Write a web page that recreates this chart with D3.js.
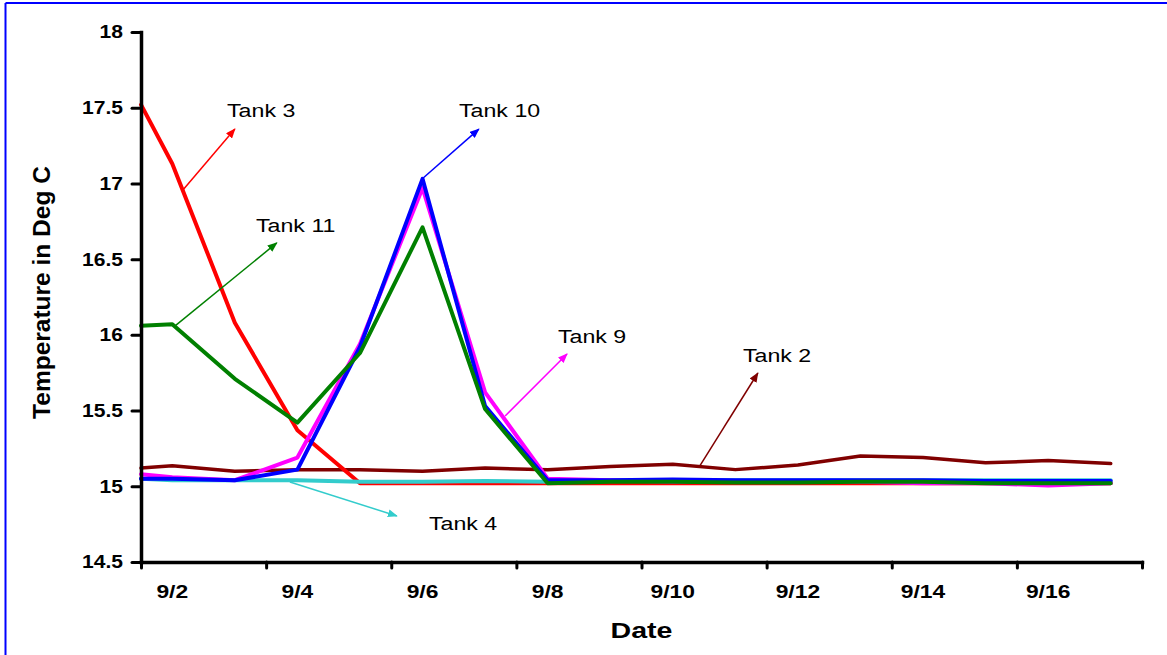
<!DOCTYPE html>
<html>
<head>
<meta charset="utf-8">
<script src="https://cdn.jsdelivr.net/npm/d3@7/dist/d3.min.js"></script>
<style>
  html, body { margin: 0; padding: 0; background: #ffffff; }
  svg { display: block; }
  text { font-family: Arial, "Liberation Sans", Helvetica, sans-serif; fill: #000; }
</style>
</head>
<body>
<svg id="chart" width="1167" height="655"></svg>
<script>
// ---------------- data ----------------
const days = [1.5, 2, 3, 4, 5, 6, 7, 8, 9, 10, 11, 12, 13, 14, 15, 16, 17];
const tickDays = [1.5, 3.5, 5.5, 7.5, 9.5, 11.5, 13.5, 15.5, 17.5];
const labelDays = [2, 4, 6, 8, 10, 12, 14, 16];
const labelTexts = ["9/2", "9/4", "9/6", "9/8", "9/10", "9/12", "9/14", "9/16"];
const yTicks = [14.5, 15, 15.5, 16, 16.5, 17, 17.5, 18];

const tank2  = [15.12, 15.135, 15.10, 15.11, 15.11, 15.10, 15.12, 15.11, 15.13, 15.145, 15.11, 15.14, 15.20, 15.19, 15.155, 15.17, 15.15];
const tank3  = [17.52, 17.13, 16.08, 15.37, 15.02, 15.02, 15.02, 15.02, 15.02, 15.02, 15.02, 15.02, 15.02, 15.02, 15.02, 15.02, 15.02];
const tank4  = [15.05, 15.04, 15.04, 15.04, 15.03, 15.03, 15.035, 15.03, 15.04, 15.04, 15.04, 15.04, 15.04, 15.04, 15.04, 15.04, 15.04];
const tank9  = [15.08, 15.06, 15.04, 15.19, 15.94, 16.97, 15.62, 15.05, 15.04, 15.03, 15.03, 15.03, 15.03, 15.02, 15.02, 15.005, 15.02];
const tank10 = [15.05, 15.05, 15.04, 15.11, 15.92, 17.03, 15.53, 15.04, 15.04, 15.045, 15.04, 15.04, 15.04, 15.04, 15.035, 15.035, 15.035];
const tank11 = [16.06, 16.07, 15.71, 15.42, 15.88, 16.71, 15.51, 15.02, 15.03, 15.03, 15.025, 15.025, 15.03, 15.03, 15.02, 15.02, 15.02];

const seriesNames  = ["Tank 2", "Tank 3", "Tank 4", "Tank 9", "Tank 10", "Tank 11"];
const seriesValues = [tank2, tank3, tank4, tank9, tank10, tank11];
const seriesColors = ["#800000", "#ff0000", "#33cccc", "#ff00ff", "#0000ff", "#008000"];

// annotation anchors in data space (day, temperature)
const annNames     = ["Tank 3", "Tank 10", "Tank 11", "Tank 9", "Tank 2", "Tank 4"];
const annFromDay   = [2.17, 6.01, 2.04, 7.32, 10.42, 3.88];
const annFromVal   = [16.957, 17.036, 16.058, 15.464, 15.127, 15.028];
const annToDay     = [3.00, 6.90, 3.67, 8.31, 11.36, 5.59];
const annToVal     = [17.359, 17.359, 16.607, 15.874, 15.748, 14.804];
const annTextDay   = [2.875, 6.583, 3.338, 8.165, 11.122, 6.103];
const annTextVal   = [17.439, 17.439, 16.679, 15.946, 15.821, 14.711];

// ---------------- layout ----------------
const svg = d3.select("#chart");
const x = d3.scaleLinear().domain([1.5, 17.5]).range([141, 1142]);
const y = d3.scaleLinear().domain([14.5, 18]).range([562, 32]);

// page border (blue, top and left)
svg.append("line").attr("x1", 5.5).attr("x2", 1167).attr("y1", 3).attr("y2", 3)
  .attr("stroke", "#0000ff").attr("stroke-width", 2);
svg.append("line").attr("x1", 5.5).attr("x2", 5.5).attr("y1", 3).attr("y2", 655)
  .attr("stroke", "#0000ff").attr("stroke-width", 2);

// markers
const defs = svg.append("defs");
seriesNames.forEach((n, i) => {
  defs.append("marker")
    .attr("id", "arrow" + i)
    .attr("viewBox", "0 0 10 8")
    .attr("refX", 9).attr("refY", 4)
    .attr("markerWidth", 10).attr("markerHeight", 8)
    .attr("markerUnits", "userSpaceOnUse")
    .attr("orient", "auto")
    .append("path").attr("d", "M0,0 L10,4 L0,8 Z").attr("fill", seriesColors[i]);
});

// series lines
const line = d3.line().x((d, i) => x(days[i])).y(d => y(d)).curve(d3.curveLinear);
seriesValues.forEach((vals, i) => {
  svg.append("path")
    .datum(vals)
    .attr("d", line)
    .attr("fill", "none")
    .attr("stroke", seriesColors[i])
    .attr("stroke-width", i === 0 ? 3.5 : 4)
    .attr("stroke-linejoin", "round")
    .attr("stroke-linecap", "round");
});

// axes
const yAxis = d3.axisLeft(y).tickValues(yTicks).tickSize(9).tickSizeOuter(0).tickFormat("");
const gy = svg.append("g").attr("transform", "translate(141,0)").call(yAxis);
const xAxis = d3.axisBottom(x).tickValues(tickDays).tickSize(6).tickSizeOuter(0).tickFormat("");
const gx = svg.append("g").attr("transform", "translate(0,562)").call(xAxis);
[gx, gy].forEach(g => {
  g.select(".domain").attr("stroke", "#000").attr("stroke-width", 3.5).attr("stroke-linecap", "square");
  g.selectAll(".tick line").attr("stroke", "#000").attr("stroke-width", 3).attr("stroke-linecap", "round");
});

// y tick labels
svg.append("g").selectAll("text").data(yTicks).join("text")
  .attr("transform", d => `translate(123,${y(d)}) scale(1.17,1)`)
  .attr("text-anchor", "end")
  .attr("dy", "0.36em")
  .attr("font-size", 18).attr("font-weight", "bold")
  .text(d => String(d));

// x tick labels
svg.append("g").selectAll("text").data(labelDays).join("text")
  .attr("transform", d => `translate(${x(d)},598) scale(1.27,1)`)
  .attr("text-anchor", "middle")
  .attr("font-size", 18).attr("font-weight", "bold")
  .text((d, i) => labelTexts[i]);

// axis titles
svg.append("text")
  .attr("transform", `translate(${(x.range()[0] + x.range()[1]) / 2},638) scale(1.3,1)`)
  .attr("text-anchor", "middle")
  .attr("font-size", 22).attr("font-weight", "bold")
  .text("Date");
svg.append("text")
  .attr("transform", "translate(50,292.5) rotate(-90)")
  .attr("text-anchor", "middle")
  .attr("font-size", 24.5).attr("font-weight", "bold")
  .text("Temperature in Deg C");

// annotations
annNames.forEach((n, k) => {
  const si = seriesNames.indexOf(n);
  svg.append("line")
    .attr("x1", x(annFromDay[k])).attr("y1", y(annFromVal[k]))
    .attr("x2", x(annToDay[k])).attr("y2", y(annToVal[k]))
    .attr("stroke", seriesColors[si]).attr("stroke-width", 1.5)
    .attr("marker-end", `url(#arrow${si})`);
  svg.append("text")
    .attr("transform", `translate(${x(annTextDay[k])},${y(annTextVal[k])}) scale(1.22,1)`)
    .attr("font-size", 19)
    .text(n);
});
</script>
</body>
</html>
